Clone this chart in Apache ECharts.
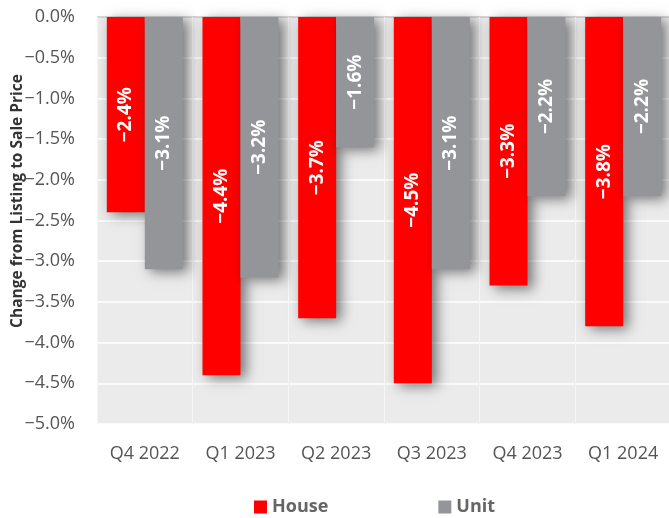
<!DOCTYPE html>
<html><head><meta charset="utf-8">
<script src="https://cdn.jsdelivr.net/npm/echarts@6/dist/echarts.min.js"></script>
<style>html,body{margin:0;padding:0;background:#fff}#c{width:669px;height:518px}</style>
</head><body><div id="c"></div>
<script>
const categories = ['Q4 2022','Q1 2023','Q2 2023','Q3 2023','Q4 2023','Q1 2024'];
const houseValues = [-2.4,-4.4,-3.7,-4.5,-3.3,-3.8];
const unitValues = [-3.1,-3.2,-1.6,-3.1,-2.2,-2.2];
const seriesNames = ['House','Unit'];
const yTitle = 'Change from Listing to Sale Price';

const fmt = v => (v < 0 ? '\u2212' : '') + Math.abs(v).toFixed(1) + '%';
const font = '"Open Sans", Lato, sans-serif';
const chart = echarts.init(document.getElementById('c'));
const splitColors = [];
for (let i = 0; i < 10; i++) splitColors.push('#ffffff');
splitColors.push('#c8c8c8');
const lbl = {show:true, position:'inside', rotate:90, color:'#fff', fontWeight:'bold', fontSize:19, fontFamily:font, formatter:p=>fmt(p.value)};
const shadow = {shadowBlur:12, shadowOffsetX:5, shadowOffsetY:3, shadowColor:'rgba(0,0,0,0.5)'};
chart.setOption({
  animation:false,
  textStyle:{fontFamily:font},
  grid:{left:97, top:17, right:-2, bottom:94, show:true, backgroundColor:'#ebebeb', borderWidth:0, outerBoundsMode:'none', containLabel:false},
  legend:{bottom:-3, left:249, itemWidth:13, itemHeight:13, itemGap:110, icon:'rect',
    textStyle:{fontSize:18, fontWeight:'bold', color:'#666', fontFamily:font}, data:seriesNames},
  graphic:[{type:'text', x:18, y:201, rotation:Math.PI/2,
    style:{text:yTitle, fill:'#333', font:'bold 15.5px ' + font, align:'center', verticalAlign:'middle'}}],
  xAxis:{type:'category', data:categories, axisLine:{show:false}, axisTick:{show:false},
    splitLine:{show:true, lineStyle:{color:'#f6f6f6', width:1}},
    axisLabel:{fontSize:18, color:'#555', margin:21}},
  yAxis:{type:'value', min:-5, max:0, interval:0.5,
    axisLabel:{fontSize:18, color:'#555', formatter:fmt, margin:22},
    splitLine:{lineStyle:{color:splitColors, width:1.5}}},
  series:[
    {name:seriesNames[0], type:'bar', data:houseValues, barWidth:38, barGap:'0%', itemStyle:Object.assign({color:'#ff0000'}, shadow), label:lbl},
    {name:seriesNames[1], type:'bar', data:unitValues, barWidth:38, itemStyle:Object.assign({color:'#939598'}, shadow), label:lbl}
  ]
});
</script></body></html>
